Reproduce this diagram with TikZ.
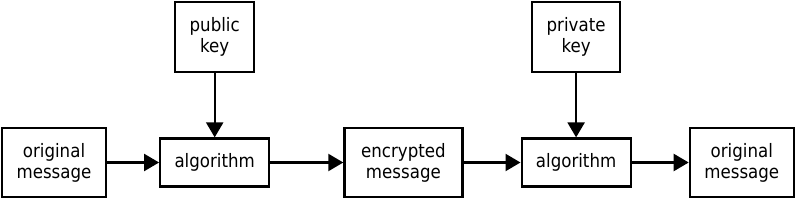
\documentclass[tikz,border=0pt]{standalone}
\usepackage{fontspec}
\setmainfont{DejaVu Sans}[FakeStretch=0.9]
\usetikzlibrary{arrows.meta, positioning}

\begin{document}
\begin{tikzpicture}[
    x=1pt, y=-1pt,
    box/.style={rectangle, draw=black, line width=2.2pt, inner sep=0pt,
                minimum height=69pt, align=center,
                font=\fontsize{18.5}{21}\selectfont},
    arrow/.style={-{Triangle[length=15pt, width=17pt]}, line width=2.2pt, black}
]
\useasboundingbox (0,0) rectangle (800,200);

\node[box, minimum width=104pt] (orig) at (54,162.5) {original\\message};
\node[box, minimum width=109pt, minimum height=48pt, right=52pt of orig] (encalg) {algorithm};
\node[box, minimum width=118pt, right=73pt of encalg] (cipher) {encrypted\\message};
\node[box, minimum width=109pt, minimum height=48pt, right=57pt of cipher] (decalg) {algorithm};
\node[box, minimum width=104pt, right=57pt of decalg] (plain) {original\\message};

\node[box, minimum width=79pt, minimum height=70pt, above=64pt of encalg] (pubkey) {public\\key};
\node[box, minimum width=88pt, minimum height=70pt, above=64pt of decalg] (privkey) {private\\key};

\draw[arrow] (orig) -- (encalg);
\draw[arrow] (encalg) -- (cipher);
\draw[arrow] (cipher) -- (decalg);
\draw[arrow] (decalg) -- (plain);
\draw[arrow] (pubkey) -- (encalg);
\draw[arrow] (privkey) -- (decalg);

\end{tikzpicture}
\end{document}
